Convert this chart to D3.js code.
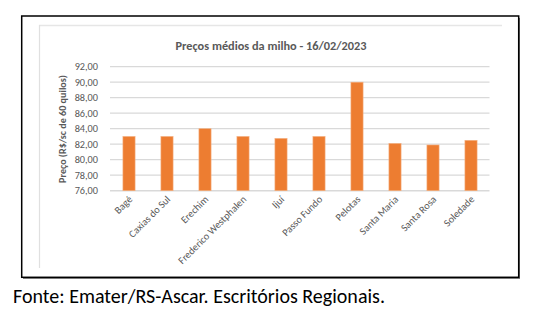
<!DOCTYPE html>
<html><head><meta charset="utf-8">
<script src="https://cdn.jsdelivr.net/npm/d3@7"></script>
<style>body{margin:0;background:#fff}svg{display:block}</style>
</head><body>
<script>
const categories = ["Bagé","Caxias do Sul","Erechim","Frederico Westphalen","Ijuí","Passo Fundo","Pelotas","Santa Maria","Santa Rosa","Soledade"];
const values = [83.0, 83.0, 84.0, 83.0, 82.75, 83.0, 90.0, 82.1, 81.9, 82.5];
const yTicks = [76,78,80,82,84,86,88,90,92];
const title = "Preços médios da milho - 16/02/2023";
const yTitle = "Preço (R$/sc de 60 quilos)";
const source = "Fonte: Emater/RS-Ascar. Escritórios Regionais.";

const W = 542, H = 332;
const svg = d3.select("body").append("svg").attr("width", W).attr("height", H);
const font = "Calibri, Carlito, 'Open Sans', sans-serif";

// fit a text element's font size so that its width matches target
function fit(sel, target) {
  const n = sel.node();
  const fs = parseFloat(sel.attr("font-size"));
  const w = n.getComputedTextLength();
  if (w > 0) sel.attr("font-size", (fs * target / w).toFixed(2));
}

// outer frame with shadow
svg.append("rect").attr("x", 23).attr("y", 18).attr("width", 497).attr("height", 261).attr("fill", "#7f7f7f");
svg.append("rect").attr("x", 21.7).attr("y", 16).attr("width", 497).attr("height", 261.3)
  .attr("fill", "#fff").attr("stroke", "#000").attr("stroke-width", 1.5);
// inner light frame (top & left)
svg.append("line").attr("x1", 39).attr("x2", 502).attr("y1", 25.5).attr("y2", 25.5).attr("stroke", "#e6e6e6").attr("stroke-width", 1.5);
svg.append("line").attr("x1", 39.5).attr("x2", 39.5).attr("y1", 25).attr("y2", 268).attr("stroke", "#e0e0e0").attr("stroke-width", 1.2);

const x = d3.scaleBand().domain(categories).range([110, 490]).paddingInner(0.68).paddingOuter(0.34);
const y = d3.scaleLinear().domain([76, 92]).range([190.7, 66.7]);

// gridlines
svg.append("g").selectAll("line").data(yTicks).join("line")
  .attr("x1", 110).attr("x2", 489.5)
  .attr("y1", d => y(d)).attr("y2", d => y(d))
  .attr("stroke", "#d9d9d9").attr("stroke-width", d => d === 76 ? 1.6 : 1.2);

// y axis labels
const yAxis = d3.axisLeft(y).tickValues(yTicks).tickSize(0).tickPadding(0)
  .tickFormat(d => d3.format(".2f")(d).replace(".", ","));
const gy = svg.append("g").attr("transform", "translate(98,0)").call(yAxis);
gy.select(".domain").remove();
gy.selectAll("text").attr("fill", "#595959").attr("font-size", 10).attr("font-family", font);
// size tick labels so "92,00" is ~23.4px wide
const t0 = gy.selectAll("text").filter(d => d === 92);
const tfs0 = 10, tw0 = t0.node().getComputedTextLength();
const tickFs = tw0 > 0 ? tfs0 * 23.4 / tw0 : 10;
gy.selectAll("text").attr("font-size", tickFs);

// bars
svg.append("g").selectAll("rect").data(values).join("rect")
  .attr("x", (d, i) => x(categories[i]))
  .attr("width", x.bandwidth())
  .attr("y", d => y(d))
  .attr("height", d => y(76) - y(d))
  .attr("fill", "#ED7D31")
  .attr("stroke", "#f4b183").attr("stroke-width", 0.6);

// x labels
const xAxis = d3.axisBottom(x).tickSize(0).tickPadding(0);
const gx = svg.append("g").attr("transform", "translate(0,191)").call(xAxis);
gx.select(".domain").remove();
gx.selectAll("text")
  .attr("fill", "#595959").attr("font-size", tickFs).attr("font-family", font)
  .attr("text-anchor", "end").attr("dy", 0)
  .attr("transform", "translate(4,9) rotate(-45)");

// title
const tt = svg.append("text").attr("x", 271).attr("y", 50).attr("text-anchor", "middle")
  .attr("font-family", font).attr("font-weight", "bold").attr("font-size", 12)
  .attr("fill", "#595959").text(title);
fit(tt, 191);

// y title
const yt = svg.append("text").attr("transform", "translate(66,129) rotate(-90)").attr("text-anchor", "middle")
  .attr("font-family", font).attr("font-weight", "bold").attr("font-size", 9.5)
  .attr("fill", "#595959").text(yTitle);
fit(yt, 108);

// source
const st = svg.append("text").attr("x", 13).attr("y", 303)
  .attr("font-family", font).attr("font-size", 15).attr("fill", "#000").text(source);
fit(st, 372);
</script>
</body></html>
